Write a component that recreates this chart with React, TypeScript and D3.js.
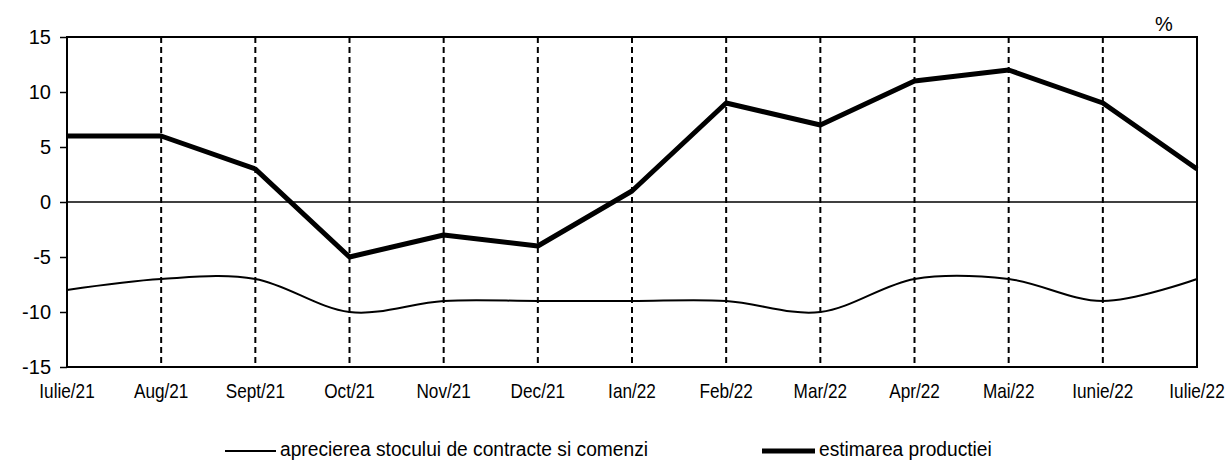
import { useEffect, useRef } from 'react'
import * as d3 from 'd3'

const months = ['Iulie/21', 'Aug/21', 'Sept/21', 'Oct/21', 'Nov/21', 'Dec/21', 'Ian/22', 'Feb/22', 'Mar/22', 'Apr/22', 'Mai/22', 'Iunie/22', 'Iulie/22']
const stocContracte = [-8, -7, -7, -10, -9, -9, -9, -9, -10, -7, -7, -9, -7]
const estimareaProductiei = [6, 6, 3, -5, -3, -4, 1, 9, 7, 11, 12, 9, 3]
const yTicks = [-15, -10, -5, 0, 5, 10, 15]

const W = 1228
const H = 463
const font = '"Liberation Sans", Arial, sans-serif'

export default function App() {
  const ref = useRef<SVGSVGElement | null>(null)

  useEffect(() => {
    if (!ref.current) {return}
    const svg = d3.select(ref.current)
    svg.selectAll('*').remove()

    const margin = { top: 37, right: 31, bottom: 96, left: 67 }
    const x = d3.scalePoint<string>().domain(months).range([margin.left, W - margin.right])
    const y = d3.scaleLinear().domain([-15, 15]).range([H - margin.bottom, margin.top])

    const root = svg.append('g')

    // dashed verticals
    root
      .append('g')
      .selectAll('line')
      .data(months.slice(1, -1))
      .join('line')
      .attr('x1', (d) => x(d) ?? 0)
      .attr('x2', (d) => x(d) ?? 0)
      .attr('y1', y(15))
      .attr('y2', y(-15))
      .attr('stroke', '#000')
      .attr('stroke-width', 2)
      .attr('stroke-dasharray', '6,4')

    // zero line
    root
      .append('line')
      .attr('x1', x(months[0]) ?? 0)
      .attr('x2', x(months[months.length - 1]) ?? 0)
      .attr('y1', y(0))
      .attr('y2', y(0))
      .attr('stroke', '#000')
      .attr('stroke-width', 1.5)

    // frame
    root
      .append('rect')
      .attr('x', x(months[0]) ?? 0)
      .attr('y', y(15))
      .attr('width', (x(months[months.length - 1]) ?? 0) - (x(months[0]) ?? 0))
      .attr('height', y(-15) - y(15))
      .attr('fill', 'none')
      .attr('stroke', '#000')
      .attr('stroke-width', 2)

    // y axis
    const yAxis = root
      .append('g')
      .attr('transform', `translate(${margin.left},0)`)
      .call(d3.axisLeft(y).tickValues(yTicks).tickSize(7).tickPadding(9).tickFormat((d) => String(d)))
    yAxis.select('.domain').remove()
    yAxis.selectAll('line').attr('stroke', '#000').attr('stroke-width', 1.5)
    yAxis
      .selectAll('text')
      .attr('fill', '#000')
      .style('font-family', font)
      .style('font-size', '20px')

    // x labels (condensed)
    root
      .append('g')
      .selectAll('text')
      .data(months)
      .join('text')
      .attr('transform', (d) => `translate(${x(d) ?? 0},${y(-15) + 24}) scale(0.86,1)`)
      .attr('dy', '0.35em')
      .attr('text-anchor', 'middle')
      .style('font-family', font)
      .style('font-size', '20px')
      .text((d) => d)

    const thin = d3
      .line<number>()
      .x((_, i) => x(months[i]) ?? 0)
      .y((d) => y(d))
      .curve(d3.curveCatmullRom.alpha(0))

    const thick = d3
      .line<number>()
      .x((_, i) => x(months[i]) ?? 0)
      .y((d) => y(d))

    root
      .append('path')
      .datum(stocContracte)
      .attr('fill', 'none')
      .attr('stroke', '#000')
      .attr('stroke-width', 2)
      .attr('d', thin)

    root
      .append('path')
      .datum(estimareaProductiei)
      .attr('fill', 'none')
      .attr('stroke', '#000')
      .attr('stroke-width', 5)
      .attr('stroke-linejoin', 'round')
      .attr('d', thick)

    // % unit
    root
      .append('text')
      .attr('x', 1164)
      .attr('y', 24)
      .attr('dy', '0.35em')
      .attr('text-anchor', 'middle')
      .style('font-family', font)
      .style('font-size', '20px')
      .text('%')

    // legend
    const legend = [
      { label: 'aprecierea stocului de contracte si comenzi', width: 2, x: 225, len: 51 },
      { label: 'estimarea productiei', width: 5, x: 762, len: 53 },
    ]
    const lg = root
      .append('g')
      .selectAll('g')
      .data(legend)
      .join('g')
      .attr('transform', (d) => `translate(${d.x},451)`)
    lg.append('line')
      .attr('x1', 0)
      .attr('x2', (d) => d.len)
      .attr('stroke', '#000')
      .attr('stroke-width', (d) => d.width)
    lg.append('text')
      .attr('transform', (d) => `translate(${d.len + 4},0) scale(0.96,1)`)
      .attr('y', -1)
      .attr('dy', '0.32em')
      .style('font-family', font)
      .style('font-size', '20px')
      .text((d) => d.label)
  }, [])

  return (
    <svg
      ref={ref}
      width={W}
      height={H}
      style={{ position: 'absolute', left: 0, top: 0, display: 'block', background: '#fff' }}
    />
  )
}
